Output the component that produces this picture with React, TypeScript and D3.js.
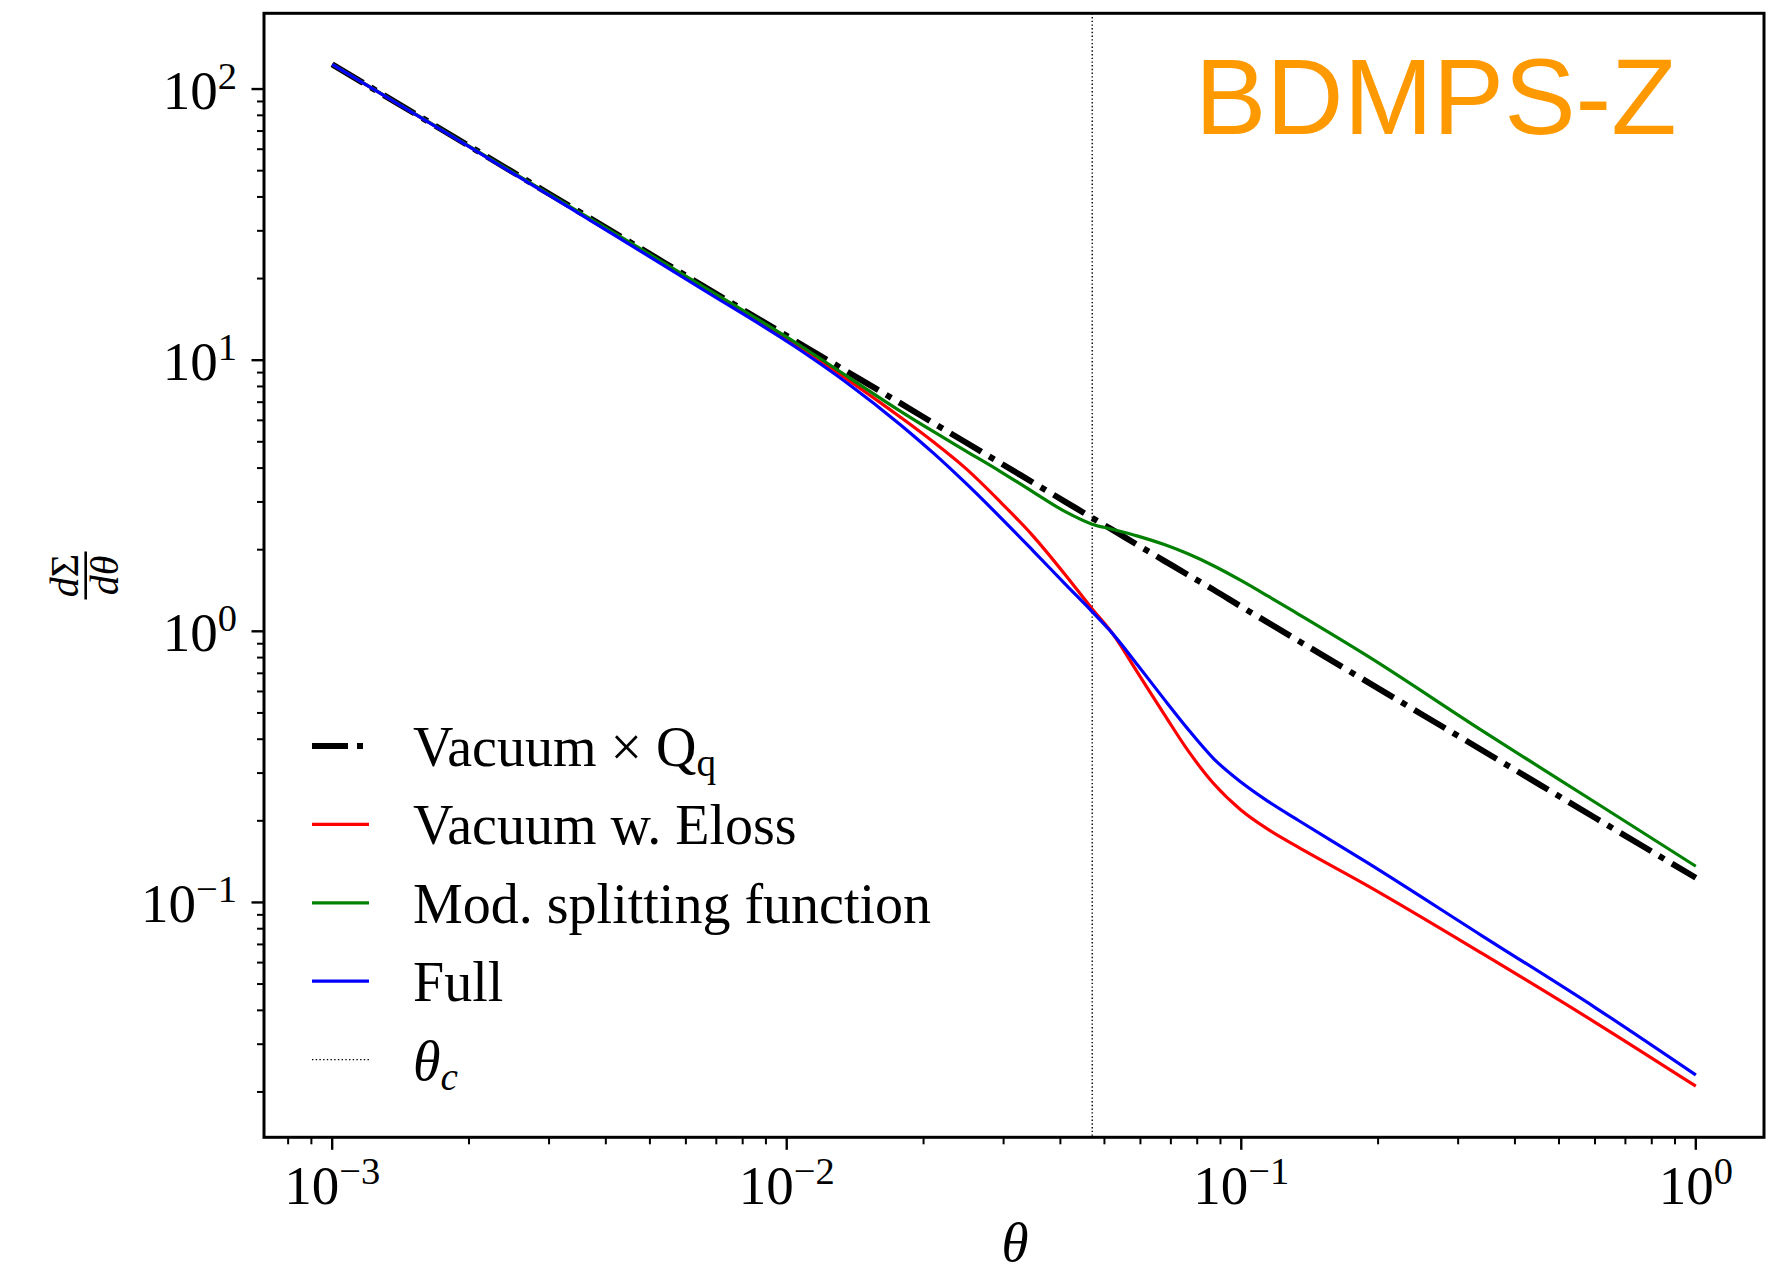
import React from 'react';
import * as d3 from 'd3';

// ---- data ----
const theta = [0.001, 0.002, 0.003, 0.0045, 0.00644, 0.0107, 0.01374, 0.0177, 0.021, 0.0248, 0.0294, 0.0348, 0.0412, 0.0468, 0.052, 0.0592, 0.0677, 0.0761, 0.0871, 0.0998, 0.1143, 0.1334, 0.189, 0.338, 0.604, 1.0];
const vacuumQq = [123.3, 61.7, 41.1, 27.4, 19.1, 11.5, 8.97, 6.97, 5.87, 4.97, 4.19, 3.54, 2.99, 2.63, 2.37, 2.08, 1.82, 1.62, 1.42, 1.235, 1.079, 0.924, 0.652, 0.365, 0.204, 0.1233];
const vacuumEloss = [123.3, 61.4, 40.8, 27.0, 18.7, 11.16, 8.39, 6.2, 5.0, 3.98, 3.02, 2.25, 1.6, 1.22, 0.985, 0.703, 0.494, 0.366, 0.2733, 0.2193, 0.1864, 0.16, 0.1156, 0.065, 0.0359, 0.021];
const modSplitting = [123.3, 61.6, 41.0, 27.3, 19.0, 11.33, 8.61, 6.52, 5.46, 4.62, 3.9, 3.27, 2.75, 2.49, 2.38, 2.244, 2.089, 1.936, 1.742, 1.541, 1.351, 1.158, 0.813, 0.431, 0.2327, 0.136];
const full = [123.3, 61.3, 40.6, 26.8, 18.5, 10.9, 8.12, 5.82, 4.55, 3.51, 2.65, 1.985, 1.48, 1.19, 0.985, 0.75, 0.561, 0.4385, 0.338, 0.278, 0.2364, 0.201, 0.1405, 0.0755, 0.0407, 0.0231];
const thetaC = 0.047;

const xMajorExps = [-3, -2, -1, 0];
const yMajorExps = [-1, 0, 1, 2];

const seriesDefs = [
  { key: 'vac', label: 'Vacuum × Q', sub: 'q', values: vacuumQq, color: '#000000', width: 6, dash: '36,9,6,9' },
  { key: 'eloss', label: 'Vacuum w. Eloss', sub: '', values: vacuumEloss, color: '#ff0000', width: 3.2, dash: '' },
  { key: 'mod', label: 'Mod. splitting function', sub: '', values: modSplitting, color: '#008000', width: 3.2, dash: '' },
  { key: 'full', label: 'Full', sub: '', values: full, color: '#0000ff', width: 3.2, dash: '' },
];

const W = 1782;
const H = 1267;
const plot = { left: 264, right: 1764, top: 13.3, bottom: 1137.3 };
const serif = '"Liberation Serif", "Times New Roman", serif';
const sans = '"Liberation Sans", Arial, Helvetica, sans-serif';

function logPadDomain(vals: number[]): [number, number] {
  const lo = Math.log10(d3.min(vals) as number);
  const hi = Math.log10(d3.max(vals) as number);
  const pad = (hi - lo) * 0.05;
  return [Math.pow(10, lo - pad), Math.pow(10, hi + pad)];
}

export default function App() {
  const allY = [...vacuumQq, ...vacuumEloss, ...modSplitting, ...full];
  const x = d3.scaleLog().domain(logPadDomain(theta)).range([plot.left, plot.right]);
  const y = d3.scaleLog().domain(logPadDomain(allY)).range([plot.bottom, plot.top]);

  const line = d3
    .line<[number, number]>()
    .x((d) => x(d[0]))
    .y((d) => y(d[1]))
    .curve(d3.curveMonotoneX);

  const xTicks = x.ticks();
  const yTicks = y.ticks();
  const isMajor = (v: number) => Math.abs(Math.log10(v) - Math.round(Math.log10(v))) < 1e-9;

  const tickFs = 55;
  const supFs = 38.5;

  const legendX0 = 312;
  const legendX1 = 369;
  const legendTextX = 413;
  const legendY0 = 746;
  const legendStep = 78.4;
  const legendFs = 56;

  return (
    <svg
      width={W}
      height={H}
      viewBox={`0 0 ${W} ${H}`}
      style={{ position: 'absolute', left: 0, top: 0, background: '#fff' }}
    >
      <rect x={0} y={0} width={W} height={H} fill="#fff" />

      {/* theta_c vertical line */}
      <line
        x1={x(thetaC)}
        x2={x(thetaC)}
        y1={plot.top}
        y2={plot.bottom}
        stroke="#000"
        strokeWidth={1.4}
        strokeDasharray="1.4,2.3"
      />

      {/* curves */}
      {seriesDefs.map((s) => (
        <path
          key={s.key}
          d={line(theta.map((t, i) => [t, s.values[i]] as [number, number])) || ''}
          fill="none"
          stroke={s.color}
          strokeWidth={s.width}
          strokeDasharray={s.dash || undefined}
          strokeLinejoin="round"
        />
      ))}

      {/* frame */}
      <rect
        x={plot.left}
        y={plot.top}
        width={plot.right - plot.left}
        height={plot.bottom - plot.top}
        fill="none"
        stroke="#000"
        strokeWidth={3}
      />

      {/* x ticks */}
      {xTicks.map((t, i) => {
        const major = isMajor(t);
        const px = x(t);
        return (
          <line
            key={'xt' + i}
            x1={px}
            x2={px}
            y1={plot.bottom}
            y2={plot.bottom + (major ? 12.5 : 7)}
            stroke="#000"
            strokeWidth={major ? 2.4 : 2}
          />
        );
      })}
      {xMajorExps.map((e) => (
        <text
          key={'xl' + e}
          x={x(Math.pow(10, e))}
          y={1204}
          textAnchor="middle"
          fontFamily={serif}
          fontSize={tickFs}
          fill="#000"
        >
          10
          <tspan fontSize={supFs} dy={-20}>
            {e < 0 ? '−' + Math.abs(e) : String(e)}
          </tspan>
        </text>
      ))}

      {/* y ticks */}
      {yTicks.map((t, i) => {
        const major = isMajor(t);
        const py = y(t);
        return (
          <line
            key={'yt' + i}
            x1={plot.left - (major ? 12.5 : 7)}
            x2={plot.left}
            y1={py}
            y2={py}
            stroke="#000"
            strokeWidth={major ? 2.4 : 2}
          />
        );
      })}
      {yMajorExps.map((e) => (
        <text
          key={'yl' + e}
          x={237}
          y={y(Math.pow(10, e)) + 19.5}
          textAnchor="end"
          fontFamily={serif}
          fontSize={tickFs}
          fill="#000"
        >
          10
          <tspan fontSize={supFs} dy={-20}>
            {e < 0 ? '−' + Math.abs(e) : String(e)}
          </tspan>
        </text>
      ))}

      {/* axis labels */}
      <text x={1015} y={1261} textAnchor="middle" fontFamily={serif} fontStyle="italic" fontSize={55} fill="#000">
        θ
      </text>
      <g transform="translate(85.7,575.5) rotate(-90)">
        <line x1={-24} x2={24} y1={0} y2={0} stroke="#000" strokeWidth={2.6} />
        <text x={0} y={-8} textAnchor="middle" fontFamily={serif} fontSize={40} fill="#000">
          <tspan fontStyle="italic">d</tspan>
          <tspan>Σ</tspan>
        </text>
        <text x={0} y={32} textAnchor="middle" fontFamily={serif} fontStyle="italic" fontSize={40} fill="#000">
          dθ
        </text>
      </g>

      {/* title */}
      <text x={1195} y={134} fontFamily={sans} fontSize={107} fill="#ff9900">
        BDMPS-Z
      </text>

      {/* legend */}
      {seriesDefs.map((s, i) => {
        const ly = legendY0 + i * legendStep;
        return (
          <g key={'lg' + s.key}>
            <line
              x1={legendX0}
              x2={legendX1}
              y1={ly}
              y2={ly}
              stroke={s.color}
              strokeWidth={s.width}
              strokeDasharray={s.dash || undefined}
            />
            <text x={legendTextX} y={ly + 20} fontFamily={serif} fontSize={legendFs} fill="#000">
              {s.label}
              {s.sub ? (
                <tspan fontSize={legendFs * 0.7} dy={10}>
                  {s.sub}
                </tspan>
              ) : null}
            </text>
          </g>
        );
      })}
      {(() => {
        const ly = legendY0 + 4 * legendStep;
        return (
          <g>
            <line
              x1={legendX0}
              x2={legendX1}
              y1={ly}
              y2={ly}
              stroke="#000"
              strokeWidth={1.4}
              strokeDasharray="1.4,2.3"
            />
            <text x={legendTextX} y={ly + 20} fontFamily={serif} fontStyle="italic" fontSize={legendFs} fill="#000">
              θ
              <tspan fontSize={legendFs * 0.7} dy={10}>
                c
              </tspan>
            </text>
          </g>
        );
      })()}
    </svg>
  );
}
